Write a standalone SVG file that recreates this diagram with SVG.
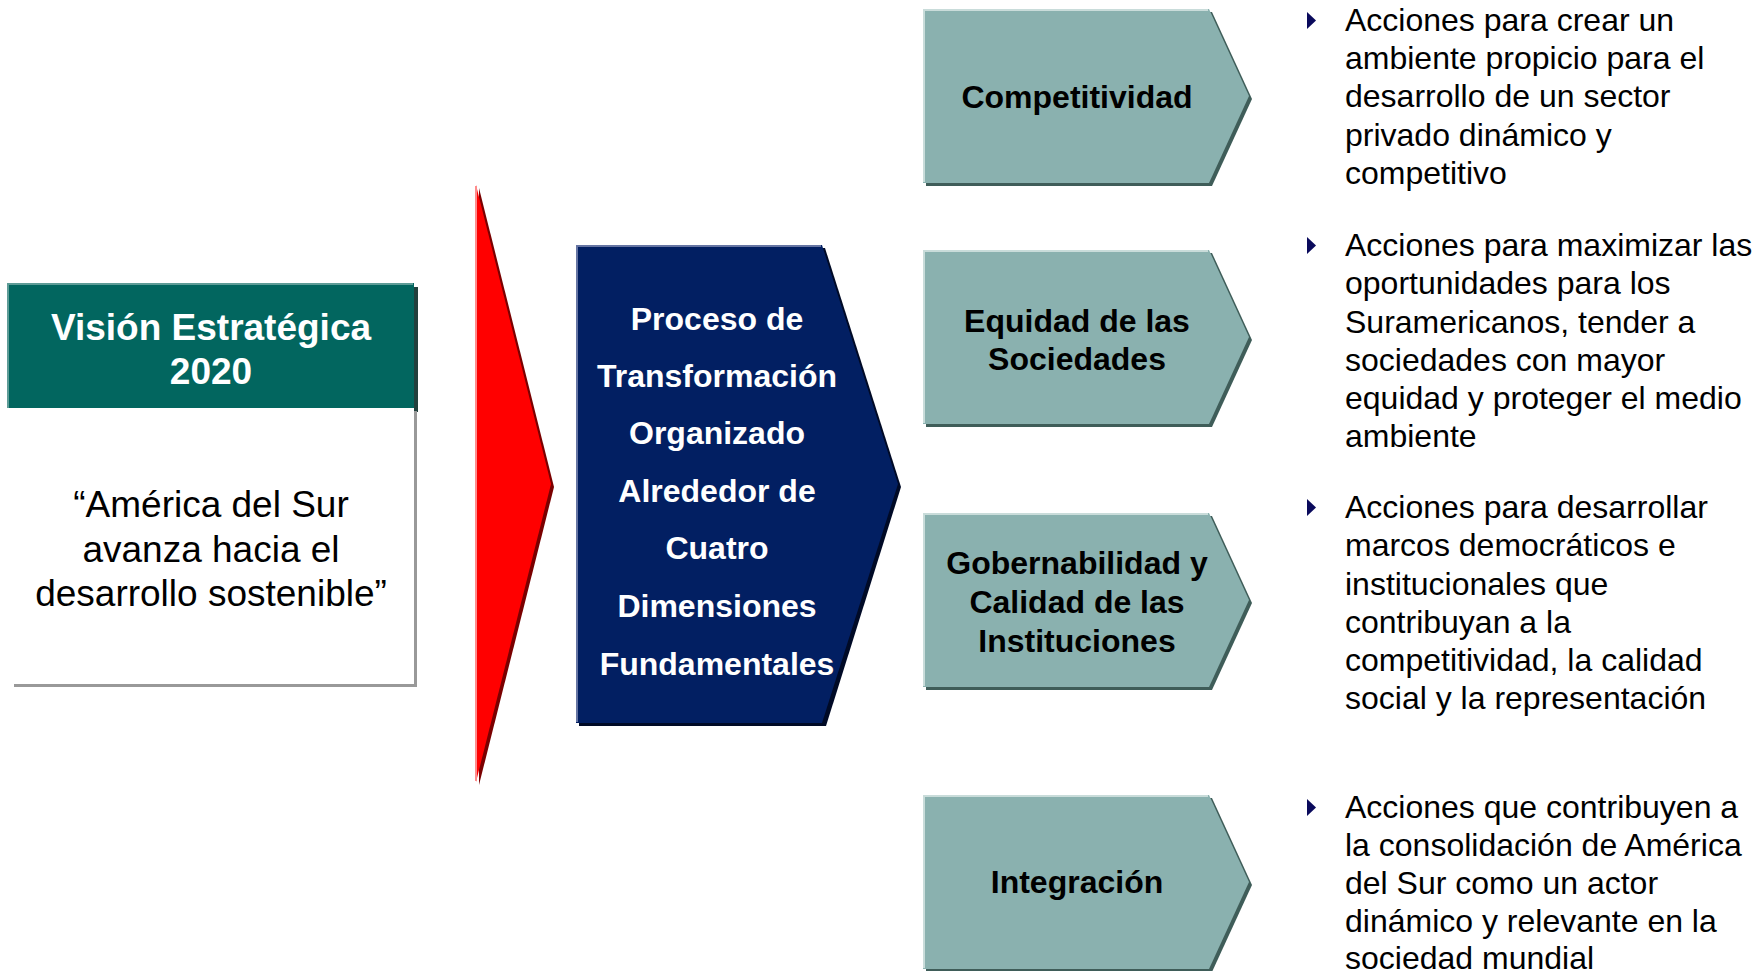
<svg xmlns="http://www.w3.org/2000/svg" width="1764" height="971" viewBox="0 0 1764 971">
<defs>
<style>
.t{font-family:"Liberation Sans",Arial,sans-serif;}
.b{font-weight:bold;}
.wh{fill:#FFFFFF;}
.bk{fill:#000000;}
.chev{fill:#8AB1AF;}
.chevsh{fill:#3F5D59;}
.chevhl{fill:none;stroke:#C9DCDA;stroke-width:2;}
.bul{fill:#0A0A5C;}
.desc{font-size:32px;fill:#000000;}
.dim{font-size:32px;font-weight:bold;fill:#000000;text-anchor:middle;}
</style>
<polygon id="chevShape" points="0,0 286,0 326,87 286,174 0,174"/>
<polygon id="bullet" points="0,0 9,8.5 0,17"/>
</defs>
<rect width="1764" height="971" fill="#FFFFFF"/>

<g id="vision">
<rect x="414" y="287" width="4" height="125" fill="#22403D"/>
<rect x="7" y="283" width="407" height="125" fill="#02665F"/>
<polyline points="8,408 8,284 413,284" fill="none" stroke="#5E9C97" stroke-width="2"/>
<rect x="414" y="411" width="3" height="276" fill="#999999"/>
<rect x="14" y="684" width="403" height="3" fill="#999999"/>
<rect x="11" y="408" width="403" height="276" fill="#FFFFFF"/>
<text class="t b wh" x="211" y="340" font-size="37" text-anchor="middle">Visión Estratégica</text>
<text class="t b wh" x="211" y="384" font-size="37" text-anchor="middle">2020</text>
<text class="t bk" x="211" y="517" font-size="37" text-anchor="middle">“América del Sur</text>
<text class="t bk" x="211" y="562" font-size="37" text-anchor="middle">avanza hacia el</text>
<text class="t bk" x="211" y="606" font-size="37" text-anchor="middle">desarrollo sostenible”</text>
</g>

<g id="connectors">
<polygon points="479,188 554,487 479,785" fill="#7A0000"/>
<polygon points="476,185 551,484 476,782" fill="#FF0000"/>
<line x1="476" y1="186" x2="476" y2="781" stroke="#FF8C8C" stroke-width="2"/>
</g>

<g id="proceso">
<polygon points="579,248 825,248 901,487 826,726 579,726" fill="#000A26"/>
<polygon points="576,245 822,245 898,484 822,723 576,723" fill="#021F62"/>
<polyline points="577,722 577,246 821,246" fill="none" stroke="#6675A3" stroke-width="2"/>
<g class="t b wh" font-size="32" text-anchor="middle">
<text x="717" y="330">Proceso de</text>
<text x="717" y="387">Transformación</text>
<text x="717" y="444">Organizado</text>
<text x="717" y="502">Alrededor de</text>
<text x="717" y="559">Cuatro</text>
<text x="717" y="617">Dimensiones</text>
<text x="717" y="675">Fundamentales</text>
</g>
</g>

<g id="competitividad" transform="translate(923,9)">
<use href="#chevShape" class="chevsh" x="3" y="3"/>
<use href="#chevShape" class="chev"/>
<polyline class="chevhl" points="1,173 1,1 285,1"/>
<text class="t dim" x="154" y="99">Competitividad</text>
</g>

<g id="equidad" transform="translate(923,250)">
<use href="#chevShape" class="chevsh" x="3" y="3"/>
<use href="#chevShape" class="chev"/>
<polyline class="chevhl" points="1,173 1,1 285,1"/>
<text class="t dim" x="154" y="82">Equidad de las</text>
<text class="t dim" x="154" y="120">Sociedades</text>
</g>

<g id="gobernabilidad" transform="translate(923,513)">
<use href="#chevShape" class="chevsh" x="3" y="3"/>
<use href="#chevShape" class="chev"/>
<polyline class="chevhl" points="1,173 1,1 285,1"/>
<text class="t dim" x="154" y="61">Gobernabilidad y</text>
<text class="t dim" x="154" y="100">Calidad de las</text>
<text class="t dim" x="154" y="139">Instituciones</text>
</g>

<g id="integracion" transform="translate(923,795)">
<use href="#chevShape" class="chevsh" x="3" y="3"/>
<use href="#chevShape" class="chev"/>
<polyline class="chevhl" points="1,173 1,1 285,1"/>
<text class="t dim" x="154" y="98">Integración</text>
</g>

<g id="desc-competitividad">
<use href="#bullet" class="bul" x="1307" y="12"/>
<text class="t desc" x="1345" y="31">Acciones para crear un</text>
<text class="t desc" x="1345" y="69">ambiente propicio para el</text>
<text class="t desc" x="1345" y="107">desarrollo de un sector</text>
<text class="t desc" x="1345" y="146">privado dinámico y</text>
<text class="t desc" x="1345" y="184">competitivo</text>
</g>

<g id="desc-equidad">
<use href="#bullet" class="bul" x="1307" y="237"/>
<text class="t desc" x="1345" y="256">Acciones para maximizar las</text>
<text class="t desc" x="1345" y="294">oportunidades para los</text>
<text class="t desc" x="1345" y="333">Suramericanos, tender a</text>
<text class="t desc" x="1345" y="371">sociedades con mayor</text>
<text class="t desc" x="1345" y="409">equidad y proteger el medio</text>
<text class="t desc" x="1345" y="447">ambiente</text>
</g>

<g id="desc-gobernabilidad">
<use href="#bullet" class="bul" x="1307" y="499"/>
<text class="t desc" x="1345" y="518">Acciones para desarrollar</text>
<text class="t desc" x="1345" y="556">marcos democráticos e</text>
<text class="t desc" x="1345" y="595">institucionales que</text>
<text class="t desc" x="1345" y="633">contribuyan a la</text>
<text class="t desc" x="1345" y="671">competitividad, la calidad</text>
<text class="t desc" x="1345" y="709">social y la representación</text>
</g>

<g id="desc-integracion">
<use href="#bullet" class="bul" x="1307" y="799"/>
<text class="t desc" x="1345" y="818">Acciones que contribuyen a</text>
<text class="t desc" x="1345" y="856">la consolidación de América</text>
<text class="t desc" x="1345" y="894">del Sur como un actor</text>
<text class="t desc" x="1345" y="932">dinámico y relevante en la</text>
<text class="t desc" x="1345" y="969">sociedad mundial</text>
</g>
</svg>
